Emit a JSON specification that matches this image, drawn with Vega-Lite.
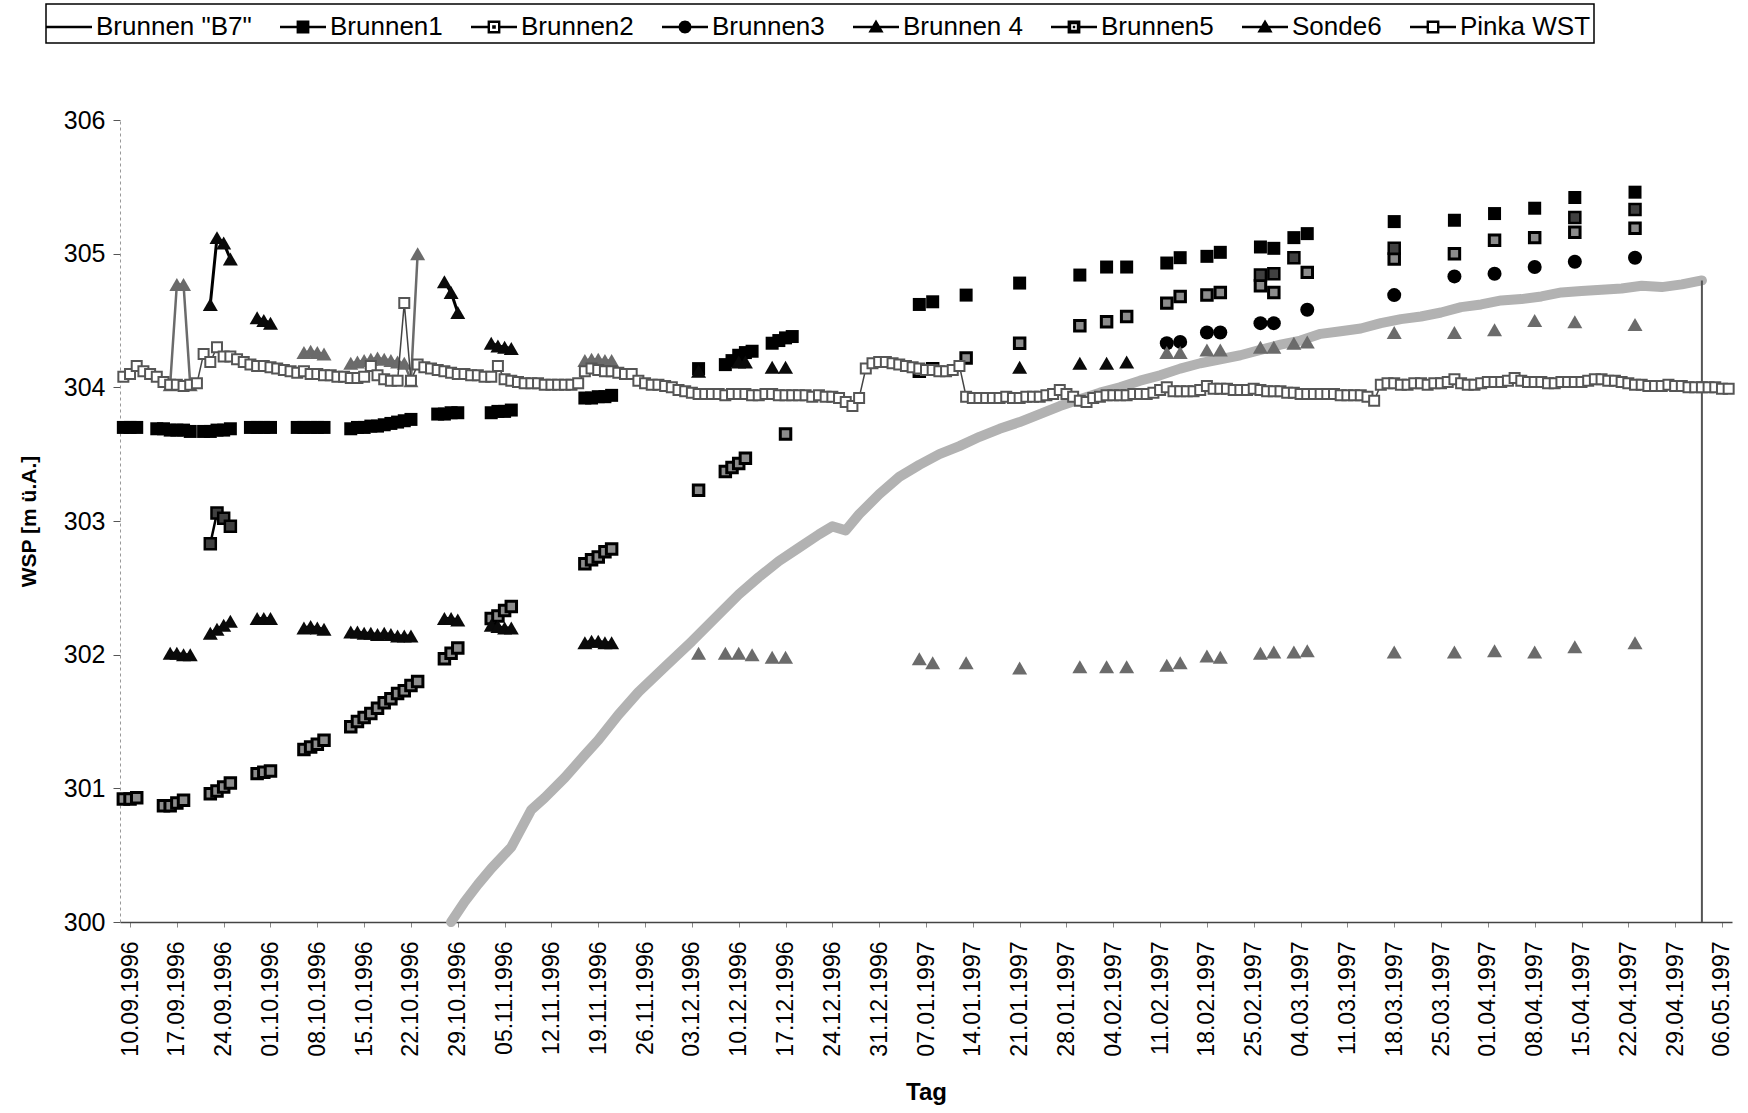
{
"$schema":"https://vega.github.io/schema/vega-lite/v6.json",
"width":1612,"height":802,
"autosize":{"type":"none"},
"padding":{"left":120,"top":120,"right":16,"bottom":191},
"background":"white",
"config":{"view":{"stroke":null},"font":"Liberation Sans","axis":{"labelFont":"Liberation Sans","titleFont":"Liberation Sans"}},
"data":{"values":[
{"s":"Brunnen \"B7\"","d":"1996-10-28","v":300.00,"g":"b7"},
{"s":"Brunnen \"B7\"","d":"1996-10-30","v":300.15,"g":"b7"},
{"s":"Brunnen \"B7\"","d":"1996-11-01","v":300.28,"g":"b7"},
{"s":"Brunnen \"B7\"","d":"1996-11-03","v":300.40,"g":"b7"},
{"s":"Brunnen \"B7\"","d":"1996-11-06","v":300.56,"g":"b7"},
{"s":"Brunnen \"B7\"","d":"1996-11-09","v":300.84,"g":"b7"},
{"s":"Brunnen \"B7\"","d":"1996-11-11","v":300.93,"g":"b7"},
{"s":"Brunnen \"B7\"","d":"1996-11-14","v":301.08,"g":"b7"},
{"s":"Brunnen \"B7\"","d":"1996-11-17","v":301.25,"g":"b7"},
{"s":"Brunnen \"B7\"","d":"1996-11-19","v":301.36,"g":"b7"},
{"s":"Brunnen \"B7\"","d":"1996-11-22","v":301.55,"g":"b7"},
{"s":"Brunnen \"B7\"","d":"1996-11-25","v":301.72,"g":"b7"},
{"s":"Brunnen \"B7\"","d":"1996-11-29","v":301.91,"g":"b7"},
{"s":"Brunnen \"B7\"","d":"1996-12-03","v":302.10,"g":"b7"},
{"s":"Brunnen \"B7\"","d":"1996-12-07","v":302.30,"g":"b7"},
{"s":"Brunnen \"B7\"","d":"1996-12-10","v":302.45,"g":"b7"},
{"s":"Brunnen \"B7\"","d":"1996-12-13","v":302.58,"g":"b7"},
{"s":"Brunnen \"B7\"","d":"1996-12-16","v":302.70,"g":"b7"},
{"s":"Brunnen \"B7\"","d":"1996-12-19","v":302.80,"g":"b7"},
{"s":"Brunnen \"B7\"","d":"1996-12-22","v":302.90,"g":"b7"},
{"s":"Brunnen \"B7\"","d":"1996-12-24","v":302.96,"g":"b7"},
{"s":"Brunnen \"B7\"","d":"1996-12-26","v":302.93,"g":"b7"},
{"s":"Brunnen \"B7\"","d":"1996-12-28","v":303.05,"g":"b7"},
{"s":"Brunnen \"B7\"","d":"1996-12-31","v":303.20,"g":"b7"},
{"s":"Brunnen \"B7\"","d":"1997-01-03","v":303.33,"g":"b7"},
{"s":"Brunnen \"B7\"","d":"1997-01-06","v":303.42,"g":"b7"},
{"s":"Brunnen \"B7\"","d":"1997-01-09","v":303.50,"g":"b7"},
{"s":"Brunnen \"B7\"","d":"1997-01-12","v":303.56,"g":"b7"},
{"s":"Brunnen \"B7\"","d":"1997-01-15","v":303.63,"g":"b7"},
{"s":"Brunnen \"B7\"","d":"1997-01-18","v":303.69,"g":"b7"},
{"s":"Brunnen \"B7\"","d":"1997-01-21","v":303.74,"g":"b7"},
{"s":"Brunnen \"B7\"","d":"1997-01-24","v":303.80,"g":"b7"},
{"s":"Brunnen \"B7\"","d":"1997-01-27","v":303.86,"g":"b7"},
{"s":"Brunnen \"B7\"","d":"1997-01-30","v":303.91,"g":"b7"},
{"s":"Brunnen \"B7\"","d":"1997-02-02","v":303.96,"g":"b7"},
{"s":"Brunnen \"B7\"","d":"1997-02-05","v":304.00,"g":"b7"},
{"s":"Brunnen \"B7\"","d":"1997-02-08","v":304.05,"g":"b7"},
{"s":"Brunnen \"B7\"","d":"1997-02-11","v":304.09,"g":"b7"},
{"s":"Brunnen \"B7\"","d":"1997-02-14","v":304.14,"g":"b7"},
{"s":"Brunnen \"B7\"","d":"1997-02-17","v":304.18,"g":"b7"},
{"s":"Brunnen \"B7\"","d":"1997-02-20","v":304.21,"g":"b7"},
{"s":"Brunnen \"B7\"","d":"1997-02-23","v":304.24,"g":"b7"},
{"s":"Brunnen \"B7\"","d":"1997-02-26","v":304.28,"g":"b7"},
{"s":"Brunnen \"B7\"","d":"1997-03-01","v":304.32,"g":"b7"},
{"s":"Brunnen \"B7\"","d":"1997-03-04","v":304.35,"g":"b7"},
{"s":"Brunnen \"B7\"","d":"1997-03-07","v":304.40,"g":"b7"},
{"s":"Brunnen \"B7\"","d":"1997-03-10","v":304.42,"g":"b7"},
{"s":"Brunnen \"B7\"","d":"1997-03-13","v":304.44,"g":"b7"},
{"s":"Brunnen \"B7\"","d":"1997-03-16","v":304.48,"g":"b7"},
{"s":"Brunnen \"B7\"","d":"1997-03-19","v":304.51,"g":"b7"},
{"s":"Brunnen \"B7\"","d":"1997-03-22","v":304.53,"g":"b7"},
{"s":"Brunnen \"B7\"","d":"1997-03-25","v":304.56,"g":"b7"},
{"s":"Brunnen \"B7\"","d":"1997-03-28","v":304.60,"g":"b7"},
{"s":"Brunnen \"B7\"","d":"1997-03-31","v":304.62,"g":"b7"},
{"s":"Brunnen \"B7\"","d":"1997-04-03","v":304.65,"g":"b7"},
{"s":"Brunnen \"B7\"","d":"1997-04-06","v":304.66,"g":"b7"},
{"s":"Brunnen \"B7\"","d":"1997-04-09","v":304.68,"g":"b7"},
{"s":"Brunnen \"B7\"","d":"1997-04-12","v":304.71,"g":"b7"},
{"s":"Brunnen \"B7\"","d":"1997-04-15","v":304.72,"g":"b7"},
{"s":"Brunnen \"B7\"","d":"1997-04-18","v":304.73,"g":"b7"},
{"s":"Brunnen \"B7\"","d":"1997-04-21","v":304.74,"g":"b7"},
{"s":"Brunnen \"B7\"","d":"1997-04-24","v":304.76,"g":"b7"},
{"s":"Brunnen \"B7\"","d":"1997-04-27","v":304.75,"g":"b7"},
{"s":"Brunnen \"B7\"","d":"1997-04-30","v":304.77,"g":"b7"},
{"s":"Brunnen \"B7\"","d":"1997-05-03","v":304.80,"g":"b7"},
{"s":"Brunnen \"B7\"","d":"1997-05-03","v":304.80,"g":"b7d"},
{"s":"Brunnen \"B7\"","d":"1997-05-03","v":300.00,"g":"b7d"},
{"s":"Brunnen1","d":"1996-09-09","v":303.70,"g":"1a"},
{"s":"Brunnen1","d":"1996-09-10","v":303.70,"g":"1a"},
{"s":"Brunnen1","d":"1996-09-11","v":303.70,"g":"1a"},
{"s":"Brunnen1","d":"1996-09-14","v":303.69,"g":"1b"},
{"s":"Brunnen1","d":"1996-09-15","v":303.69,"g":"1b"},
{"s":"Brunnen1","d":"1996-09-16","v":303.68,"g":"1b"},
{"s":"Brunnen1","d":"1996-09-17","v":303.68,"g":"1b"},
{"s":"Brunnen1","d":"1996-09-18","v":303.68,"g":"1b"},
{"s":"Brunnen1","d":"1996-09-19","v":303.67,"g":"1b"},
{"s":"Brunnen1","d":"1996-09-21","v":303.67,"g":"1c"},
{"s":"Brunnen1","d":"1996-09-22","v":303.67,"g":"1c"},
{"s":"Brunnen1","d":"1996-09-23","v":303.68,"g":"1c"},
{"s":"Brunnen1","d":"1996-09-24","v":303.68,"g":"1c"},
{"s":"Brunnen1","d":"1996-09-25","v":303.69,"g":"1c"},
{"s":"Brunnen1","d":"1996-09-28","v":303.70,"g":"1d"},
{"s":"Brunnen1","d":"1996-09-29","v":303.70,"g":"1d"},
{"s":"Brunnen1","d":"1996-09-30","v":303.70,"g":"1d"},
{"s":"Brunnen1","d":"1996-10-01","v":303.70,"g":"1d"},
{"s":"Brunnen1","d":"1996-10-05","v":303.70,"g":"1e"},
{"s":"Brunnen1","d":"1996-10-06","v":303.70,"g":"1e"},
{"s":"Brunnen1","d":"1996-10-07","v":303.70,"g":"1e"},
{"s":"Brunnen1","d":"1996-10-08","v":303.70,"g":"1e"},
{"s":"Brunnen1","d":"1996-10-09","v":303.70,"g":"1e"},
{"s":"Brunnen1","d":"1996-10-13","v":303.69,"g":"1f"},
{"s":"Brunnen1","d":"1996-10-14","v":303.70,"g":"1f"},
{"s":"Brunnen1","d":"1996-10-15","v":303.70,"g":"1f"},
{"s":"Brunnen1","d":"1996-10-16","v":303.71,"g":"1f"},
{"s":"Brunnen1","d":"1996-10-17","v":303.71,"g":"1f"},
{"s":"Brunnen1","d":"1996-10-18","v":303.72,"g":"1f"},
{"s":"Brunnen1","d":"1996-10-19","v":303.73,"g":"1f"},
{"s":"Brunnen1","d":"1996-10-20","v":303.74,"g":"1f"},
{"s":"Brunnen1","d":"1996-10-21","v":303.75,"g":"1f"},
{"s":"Brunnen1","d":"1996-10-22","v":303.76,"g":"1f"},
{"s":"Brunnen1","d":"1996-10-26","v":303.80,"g":"1g"},
{"s":"Brunnen1","d":"1996-10-27","v":303.80,"g":"1g"},
{"s":"Brunnen1","d":"1996-10-28","v":303.81,"g":"1g"},
{"s":"Brunnen1","d":"1996-10-29","v":303.81,"g":"1g"},
{"s":"Brunnen1","d":"1996-11-03","v":303.81,"g":"1h"},
{"s":"Brunnen1","d":"1996-11-04","v":303.82,"g":"1h"},
{"s":"Brunnen1","d":"1996-11-05","v":303.82,"g":"1h"},
{"s":"Brunnen1","d":"1996-11-06","v":303.83,"g":"1h"},
{"s":"Brunnen1","d":"1996-11-17","v":303.92,"g":"1i"},
{"s":"Brunnen1","d":"1996-11-18","v":303.92,"g":"1i"},
{"s":"Brunnen1","d":"1996-11-19","v":303.93,"g":"1i"},
{"s":"Brunnen1","d":"1996-11-20","v":303.93,"g":"1i"},
{"s":"Brunnen1","d":"1996-11-21","v":303.94,"g":"1i"},
{"s":"Brunnen1","d":"1996-12-04","v":304.14},
{"s":"Brunnen1","d":"1996-12-08","v":304.17,"g":"1k"},
{"s":"Brunnen1","d":"1996-12-09","v":304.20,"g":"1k"},
{"s":"Brunnen1","d":"1996-12-10","v":304.24,"g":"1k"},
{"s":"Brunnen1","d":"1996-12-11","v":304.26,"g":"1k"},
{"s":"Brunnen1","d":"1996-12-12","v":304.27,"g":"1k"},
{"s":"Brunnen1","d":"1996-12-15","v":304.33,"g":"1l"},
{"s":"Brunnen1","d":"1996-12-16","v":304.35,"g":"1l"},
{"s":"Brunnen1","d":"1996-12-17","v":304.37,"g":"1l"},
{"s":"Brunnen1","d":"1996-12-18","v":304.38,"g":"1l"},
{"s":"Brunnen1","d":"1997-01-06","v":304.62},
{"s":"Brunnen1","d":"1997-01-08","v":304.64},
{"s":"Brunnen1","d":"1997-01-13","v":304.69},
{"s":"Brunnen1","d":"1997-01-21","v":304.78},
{"s":"Brunnen1","d":"1997-01-30","v":304.84},
{"s":"Brunnen1","d":"1997-02-03","v":304.90},
{"s":"Brunnen1","d":"1997-02-06","v":304.90},
{"s":"Brunnen1","d":"1997-02-12","v":304.93},
{"s":"Brunnen1","d":"1997-02-14","v":304.97},
{"s":"Brunnen1","d":"1997-02-18","v":304.98},
{"s":"Brunnen1","d":"1997-02-20","v":305.01},
{"s":"Brunnen1","d":"1997-02-26","v":305.05},
{"s":"Brunnen1","d":"1997-02-28","v":305.04},
{"s":"Brunnen1","d":"1997-03-03","v":305.12},
{"s":"Brunnen1","d":"1997-03-05","v":305.15},
{"s":"Brunnen1","d":"1997-03-18","v":305.24},
{"s":"Brunnen1","d":"1997-03-27","v":305.25},
{"s":"Brunnen1","d":"1997-04-02","v":305.30},
{"s":"Brunnen1","d":"1997-04-08","v":305.34},
{"s":"Brunnen1","d":"1997-04-14","v":305.42},
{"s":"Brunnen1","d":"1997-04-23","v":305.46},
{"s":"Brunnen2","d":"1996-09-09","v":300.92,"g":"2a"},
{"s":"Brunnen2","d":"1996-09-10","v":300.92,"g":"2a"},
{"s":"Brunnen2","d":"1996-09-11","v":300.93,"g":"2a"},
{"s":"Brunnen2","d":"1996-09-15","v":300.87,"g":"2b"},
{"s":"Brunnen2","d":"1996-09-16","v":300.87,"g":"2b"},
{"s":"Brunnen2","d":"1996-09-17","v":300.89,"g":"2b"},
{"s":"Brunnen2","d":"1996-09-18","v":300.91,"g":"2b"},
{"s":"Brunnen2","d":"1996-09-22","v":300.96,"g":"2c"},
{"s":"Brunnen2","d":"1996-09-23","v":300.98,"g":"2c"},
{"s":"Brunnen2","d":"1996-09-24","v":301.01,"g":"2c"},
{"s":"Brunnen2","d":"1996-09-25","v":301.04,"g":"2c"},
{"s":"Brunnen2","d":"1996-09-29","v":301.11,"g":"2d"},
{"s":"Brunnen2","d":"1996-09-30","v":301.12,"g":"2d"},
{"s":"Brunnen2","d":"1996-10-01","v":301.13,"g":"2d"},
{"s":"Brunnen2","d":"1996-10-06","v":301.29,"g":"2e"},
{"s":"Brunnen2","d":"1996-10-07","v":301.31,"g":"2e"},
{"s":"Brunnen2","d":"1996-10-08","v":301.33,"g":"2e"},
{"s":"Brunnen2","d":"1996-10-09","v":301.36,"g":"2e"},
{"s":"Brunnen2","d":"1996-10-13","v":301.46,"g":"2f"},
{"s":"Brunnen2","d":"1996-10-14","v":301.50,"g":"2f"},
{"s":"Brunnen2","d":"1996-10-15","v":301.53,"g":"2f"},
{"s":"Brunnen2","d":"1996-10-16","v":301.56,"g":"2f"},
{"s":"Brunnen2","d":"1996-10-17","v":301.60,"g":"2f"},
{"s":"Brunnen2","d":"1996-10-18","v":301.64,"g":"2f"},
{"s":"Brunnen2","d":"1996-10-19","v":301.67,"g":"2f"},
{"s":"Brunnen2","d":"1996-10-20","v":301.71,"g":"2f"},
{"s":"Brunnen2","d":"1996-10-21","v":301.73,"g":"2f"},
{"s":"Brunnen2","d":"1996-10-22","v":301.77,"g":"2f"},
{"s":"Brunnen2","d":"1996-10-23","v":301.80,"g":"2f"},
{"s":"Brunnen2","d":"1996-10-27","v":301.97,"g":"2g"},
{"s":"Brunnen2","d":"1996-10-28","v":302.01,"g":"2g"},
{"s":"Brunnen2","d":"1996-10-29","v":302.05,"g":"2g"},
{"s":"Brunnen2","d":"1996-11-03","v":302.27,"g":"2h"},
{"s":"Brunnen2","d":"1996-11-04","v":302.29,"g":"2h"},
{"s":"Brunnen2","d":"1996-11-05","v":302.33,"g":"2h"},
{"s":"Brunnen2","d":"1996-11-06","v":302.36,"g":"2h"},
{"s":"Brunnen2","d":"1996-11-17","v":302.68,"g":"2i"},
{"s":"Brunnen2","d":"1996-11-18","v":302.71,"g":"2i"},
{"s":"Brunnen2","d":"1996-11-19","v":302.73,"g":"2i"},
{"s":"Brunnen2","d":"1996-11-20","v":302.77,"g":"2i"},
{"s":"Brunnen2","d":"1996-11-21","v":302.79,"g":"2i"},
{"s":"Brunnen2","d":"1996-12-04","v":303.23},
{"s":"Brunnen2","d":"1996-12-08","v":303.37,"g":"2k"},
{"s":"Brunnen2","d":"1996-12-09","v":303.40,"g":"2k"},
{"s":"Brunnen2","d":"1996-12-10","v":303.43,"g":"2k"},
{"s":"Brunnen2","d":"1996-12-11","v":303.47,"g":"2k"},
{"s":"Brunnen2","d":"1996-12-17","v":303.65},
{"s":"Brunnen2","d":"1997-01-06","v":304.12},
{"s":"Brunnen2","d":"1997-01-08","v":304.14},
{"s":"Brunnen2","d":"1997-01-13","v":304.22},
{"s":"Brunnen2","d":"1997-01-21","v":304.33},
{"s":"Brunnen2","d":"1997-01-30","v":304.46},
{"s":"Brunnen2","d":"1997-02-03","v":304.49},
{"s":"Brunnen2","d":"1997-02-06","v":304.53},
{"s":"Brunnen2","d":"1997-02-12","v":304.63},
{"s":"Brunnen2","d":"1997-02-14","v":304.68},
{"s":"Brunnen2","d":"1997-02-18","v":304.69},
{"s":"Brunnen2","d":"1997-02-20","v":304.71},
{"s":"Brunnen2","d":"1997-02-26","v":304.76},
{"s":"Brunnen2","d":"1997-02-28","v":304.71},
{"s":"Brunnen2","d":"1997-03-05","v":304.86},
{"s":"Brunnen2","d":"1997-03-18","v":304.96},
{"s":"Brunnen2","d":"1997-03-27","v":305.00},
{"s":"Brunnen2","d":"1997-04-02","v":305.10},
{"s":"Brunnen2","d":"1997-04-08","v":305.12},
{"s":"Brunnen2","d":"1997-04-14","v":305.16},
{"s":"Brunnen2","d":"1997-04-23","v":305.19},
{"s":"Brunnen3","d":"1997-02-12","v":304.33},
{"s":"Brunnen3","d":"1997-02-14","v":304.34},
{"s":"Brunnen3","d":"1997-02-18","v":304.41},
{"s":"Brunnen3","d":"1997-02-20","v":304.41},
{"s":"Brunnen3","d":"1997-02-26","v":304.48},
{"s":"Brunnen3","d":"1997-02-28","v":304.48},
{"s":"Brunnen3","d":"1997-03-05","v":304.58},
{"s":"Brunnen3","d":"1997-03-18","v":304.69},
{"s":"Brunnen3","d":"1997-03-27","v":304.83},
{"s":"Brunnen3","d":"1997-04-02","v":304.85},
{"s":"Brunnen3","d":"1997-04-08","v":304.90},
{"s":"Brunnen3","d":"1997-04-14","v":304.94},
{"s":"Brunnen3","d":"1997-04-23","v":304.97},
{"s":"Brunnen 4","d":"1996-09-16","v":302.01,"g":"4a"},
{"s":"Brunnen 4","d":"1996-09-17","v":302.01,"g":"4a"},
{"s":"Brunnen 4","d":"1996-09-18","v":302.00,"g":"4a"},
{"s":"Brunnen 4","d":"1996-09-19","v":302.00,"g":"4a"},
{"s":"Brunnen 4","d":"1996-09-22","v":302.16,"g":"4b"},
{"s":"Brunnen 4","d":"1996-09-23","v":302.19,"g":"4b"},
{"s":"Brunnen 4","d":"1996-09-24","v":302.22,"g":"4b"},
{"s":"Brunnen 4","d":"1996-09-25","v":302.25,"g":"4b"},
{"s":"Brunnen 4","d":"1996-09-29","v":302.27,"g":"4c"},
{"s":"Brunnen 4","d":"1996-09-30","v":302.27,"g":"4c"},
{"s":"Brunnen 4","d":"1996-10-01","v":302.27,"g":"4c"},
{"s":"Brunnen 4","d":"1996-10-06","v":302.20,"g":"4d"},
{"s":"Brunnen 4","d":"1996-10-07","v":302.21,"g":"4d"},
{"s":"Brunnen 4","d":"1996-10-08","v":302.20,"g":"4d"},
{"s":"Brunnen 4","d":"1996-10-09","v":302.19,"g":"4d"},
{"s":"Brunnen 4","d":"1996-10-13","v":302.17,"g":"4e"},
{"s":"Brunnen 4","d":"1996-10-14","v":302.17,"g":"4e"},
{"s":"Brunnen 4","d":"1996-10-15","v":302.16,"g":"4e"},
{"s":"Brunnen 4","d":"1996-10-16","v":302.16,"g":"4e"},
{"s":"Brunnen 4","d":"1996-10-17","v":302.15,"g":"4e"},
{"s":"Brunnen 4","d":"1996-10-18","v":302.16,"g":"4e"},
{"s":"Brunnen 4","d":"1996-10-19","v":302.15,"g":"4e"},
{"s":"Brunnen 4","d":"1996-10-20","v":302.14,"g":"4e"},
{"s":"Brunnen 4","d":"1996-10-21","v":302.14,"g":"4e"},
{"s":"Brunnen 4","d":"1996-10-22","v":302.14,"g":"4e"},
{"s":"Brunnen 4","d":"1996-10-27","v":302.27,"g":"4f"},
{"s":"Brunnen 4","d":"1996-10-28","v":302.27,"g":"4f"},
{"s":"Brunnen 4","d":"1996-10-29","v":302.26,"g":"4f"},
{"s":"Brunnen 4","d":"1996-11-03","v":302.22,"g":"4g"},
{"s":"Brunnen 4","d":"1996-11-04","v":302.21,"g":"4g"},
{"s":"Brunnen 4","d":"1996-11-05","v":302.20,"g":"4g"},
{"s":"Brunnen 4","d":"1996-11-06","v":302.20,"g":"4g"},
{"s":"Brunnen 4","d":"1996-11-17","v":302.09,"g":"4h"},
{"s":"Brunnen 4","d":"1996-11-18","v":302.10,"g":"4h"},
{"s":"Brunnen 4","d":"1996-11-19","v":302.10,"g":"4h"},
{"s":"Brunnen 4","d":"1996-11-20","v":302.09,"g":"4h"},
{"s":"Brunnen 4","d":"1996-11-21","v":302.09,"g":"4h"},
{"s":"Brunnen 4","d":"1996-09-22","v":304.62,"g":"4u1"},
{"s":"Brunnen 4","d":"1996-09-23","v":305.12,"g":"4u1"},
{"s":"Brunnen 4","d":"1996-09-24","v":305.08,"g":"4u1"},
{"s":"Brunnen 4","d":"1996-09-25","v":304.96,"g":"4u1"},
{"s":"Brunnen 4","d":"1996-09-29","v":304.52,"g":"4u2"},
{"s":"Brunnen 4","d":"1996-09-30","v":304.50,"g":"4u2"},
{"s":"Brunnen 4","d":"1996-10-01","v":304.48,"g":"4u2"},
{"s":"Brunnen 4","d":"1996-10-27","v":304.79,"g":"4u3"},
{"s":"Brunnen 4","d":"1996-10-28","v":304.71,"g":"4u3"},
{"s":"Brunnen 4","d":"1996-10-29","v":304.56,"g":"4u3"},
{"s":"Brunnen 4","d":"1996-11-03","v":304.33,"g":"4u4"},
{"s":"Brunnen 4","d":"1996-11-04","v":304.31,"g":"4u4"},
{"s":"Brunnen 4","d":"1996-11-05","v":304.30,"g":"4u4"},
{"s":"Brunnen 4","d":"1996-11-06","v":304.29,"g":"4u4"},
{"s":"Brunnen 4","d":"1996-12-04","v":304.12},
{"s":"Brunnen 4","d":"1996-12-10","v":304.19,"g":"4u5"},
{"s":"Brunnen 4","d":"1996-12-11","v":304.19,"g":"4u5"},
{"s":"Brunnen 4","d":"1996-12-15","v":304.15},
{"s":"Brunnen 4","d":"1996-12-17","v":304.15},
{"s":"Brunnen 4","d":"1997-01-21","v":304.15},
{"s":"Brunnen 4","d":"1997-01-30","v":304.18},
{"s":"Brunnen 4","d":"1997-02-03","v":304.18},
{"s":"Brunnen 4","d":"1997-02-06","v":304.19},
{"s":"Brunnen5","d":"1996-09-22","v":302.83,"g":"5a"},
{"s":"Brunnen5","d":"1996-09-23","v":303.06,"g":"5a"},
{"s":"Brunnen5","d":"1996-09-24","v":303.02,"g":"5a"},
{"s":"Brunnen5","d":"1996-09-25","v":302.96,"g":"5a"},
{"s":"Brunnen5","d":"1997-02-26","v":304.84},
{"s":"Brunnen5","d":"1997-02-28","v":304.85},
{"s":"Brunnen5","d":"1997-03-03","v":304.97},
{"s":"Brunnen5","d":"1997-03-18","v":305.04},
{"s":"Brunnen5","d":"1997-04-14","v":305.27},
{"s":"Brunnen5","d":"1997-04-23","v":305.33},
{"s":"Sonde6","d":"1996-09-16","v":304.02,"g":"s1"},
{"s":"Sonde6","d":"1996-09-17","v":304.77,"g":"s1"},
{"s":"Sonde6","d":"1996-09-18","v":304.77,"g":"s1"},
{"s":"Sonde6","d":"1996-09-19","v":304.02,"g":"s1"},
{"s":"Sonde6","d":"1996-10-06","v":304.26,"g":"s2"},
{"s":"Sonde6","d":"1996-10-07","v":304.27,"g":"s2"},
{"s":"Sonde6","d":"1996-10-08","v":304.26,"g":"s2"},
{"s":"Sonde6","d":"1996-10-09","v":304.25,"g":"s2"},
{"s":"Sonde6","d":"1996-10-13","v":304.18,"g":"s3"},
{"s":"Sonde6","d":"1996-10-14","v":304.19,"g":"s3"},
{"s":"Sonde6","d":"1996-10-15","v":304.20,"g":"s3"},
{"s":"Sonde6","d":"1996-10-16","v":304.21,"g":"s3"},
{"s":"Sonde6","d":"1996-10-17","v":304.22,"g":"s3"},
{"s":"Sonde6","d":"1996-10-18","v":304.21,"g":"s3"},
{"s":"Sonde6","d":"1996-10-19","v":304.20,"g":"s3"},
{"s":"Sonde6","d":"1996-10-20","v":304.19,"g":"s3"},
{"s":"Sonde6","d":"1996-10-21","v":304.18,"g":"s3"},
{"s":"Sonde6","d":"1996-10-22","v":304.05,"g":"s3"},
{"s":"Sonde6","d":"1996-10-23","v":305.00,"g":"s3"},
{"s":"Sonde6","d":"1996-11-17","v":304.20,"g":"s4"},
{"s":"Sonde6","d":"1996-11-18","v":304.21,"g":"s4"},
{"s":"Sonde6","d":"1996-11-19","v":304.21,"g":"s4"},
{"s":"Sonde6","d":"1996-11-20","v":304.20,"g":"s4"},
{"s":"Sonde6","d":"1996-11-21","v":304.20,"g":"s4"},
{"s":"Sonde6","d":"1996-12-04","v":302.01},
{"s":"Sonde6","d":"1996-12-08","v":302.01},
{"s":"Sonde6","d":"1996-12-10","v":302.01},
{"s":"Sonde6","d":"1996-12-12","v":302.00},
{"s":"Sonde6","d":"1996-12-15","v":301.98},
{"s":"Sonde6","d":"1996-12-17","v":301.98},
{"s":"Sonde6","d":"1997-01-06","v":301.97},
{"s":"Sonde6","d":"1997-01-08","v":301.94},
{"s":"Sonde6","d":"1997-01-13","v":301.94},
{"s":"Sonde6","d":"1997-01-21","v":301.90},
{"s":"Sonde6","d":"1997-01-30","v":301.91},
{"s":"Sonde6","d":"1997-02-03","v":301.91},
{"s":"Sonde6","d":"1997-02-06","v":301.91},
{"s":"Sonde6","d":"1997-02-12","v":301.92},
{"s":"Sonde6","d":"1997-02-14","v":301.94},
{"s":"Sonde6","d":"1997-02-18","v":301.99},
{"s":"Sonde6","d":"1997-02-20","v":301.98},
{"s":"Sonde6","d":"1997-02-26","v":302.01},
{"s":"Sonde6","d":"1997-02-28","v":302.02},
{"s":"Sonde6","d":"1997-03-03","v":302.02},
{"s":"Sonde6","d":"1997-03-05","v":302.03},
{"s":"Sonde6","d":"1997-03-18","v":302.02},
{"s":"Sonde6","d":"1997-03-27","v":302.02},
{"s":"Sonde6","d":"1997-04-02","v":302.03},
{"s":"Sonde6","d":"1997-04-08","v":302.02},
{"s":"Sonde6","d":"1997-04-14","v":302.06},
{"s":"Sonde6","d":"1997-04-23","v":302.09},
{"s":"Sonde6","d":"1997-02-12","v":304.26},
{"s":"Sonde6","d":"1997-02-14","v":304.26},
{"s":"Sonde6","d":"1997-02-18","v":304.28},
{"s":"Sonde6","d":"1997-02-20","v":304.28},
{"s":"Sonde6","d":"1997-02-26","v":304.30},
{"s":"Sonde6","d":"1997-02-28","v":304.30},
{"s":"Sonde6","d":"1997-03-03","v":304.33},
{"s":"Sonde6","d":"1997-03-05","v":304.34},
{"s":"Sonde6","d":"1997-03-18","v":304.41},
{"s":"Sonde6","d":"1997-03-27","v":304.41},
{"s":"Sonde6","d":"1997-04-02","v":304.43},
{"s":"Sonde6","d":"1997-04-08","v":304.50},
{"s":"Sonde6","d":"1997-04-14","v":304.49},
{"s":"Sonde6","d":"1997-04-23","v":304.47},
{"s":"Pinka WST","d":"1996-09-09","v":304.08,"g":"p"},
{"s":"Pinka WST","d":"1996-09-10","v":304.10,"g":"p"},
{"s":"Pinka WST","d":"1996-09-11","v":304.16,"g":"p"},
{"s":"Pinka WST","d":"1996-09-12","v":304.12,"g":"p"},
{"s":"Pinka WST","d":"1996-09-13","v":304.10,"g":"p"},
{"s":"Pinka WST","d":"1996-09-14","v":304.08,"g":"p"},
{"s":"Pinka WST","d":"1996-09-15","v":304.04,"g":"p"},
{"s":"Pinka WST","d":"1996-09-16","v":304.02,"g":"p"},
{"s":"Pinka WST","d":"1996-09-17","v":304.02,"g":"p"},
{"s":"Pinka WST","d":"1996-09-18","v":304.01,"g":"p"},
{"s":"Pinka WST","d":"1996-09-19","v":304.02,"g":"p"},
{"s":"Pinka WST","d":"1996-09-20","v":304.03,"g":"p"},
{"s":"Pinka WST","d":"1996-09-21","v":304.25,"g":"p"},
{"s":"Pinka WST","d":"1996-09-22","v":304.19,"g":"p"},
{"s":"Pinka WST","d":"1996-09-23","v":304.30,"g":"p"},
{"s":"Pinka WST","d":"1996-09-24","v":304.23,"g":"p"},
{"s":"Pinka WST","d":"1996-09-25","v":304.23,"g":"p"},
{"s":"Pinka WST","d":"1996-09-26","v":304.21,"g":"p"},
{"s":"Pinka WST","d":"1996-09-27","v":304.19,"g":"p"},
{"s":"Pinka WST","d":"1996-09-28","v":304.17,"g":"p"},
{"s":"Pinka WST","d":"1996-09-29","v":304.16,"g":"p"},
{"s":"Pinka WST","d":"1996-09-30","v":304.16,"g":"p"},
{"s":"Pinka WST","d":"1996-10-01","v":304.15,"g":"p"},
{"s":"Pinka WST","d":"1996-10-02","v":304.14,"g":"p"},
{"s":"Pinka WST","d":"1996-10-03","v":304.13,"g":"p"},
{"s":"Pinka WST","d":"1996-10-04","v":304.12,"g":"p"},
{"s":"Pinka WST","d":"1996-10-05","v":304.11,"g":"p"},
{"s":"Pinka WST","d":"1996-10-06","v":304.12,"g":"p"},
{"s":"Pinka WST","d":"1996-10-07","v":304.10,"g":"p"},
{"s":"Pinka WST","d":"1996-10-08","v":304.10,"g":"p"},
{"s":"Pinka WST","d":"1996-10-09","v":304.09,"g":"p"},
{"s":"Pinka WST","d":"1996-10-10","v":304.09,"g":"p"},
{"s":"Pinka WST","d":"1996-10-11","v":304.08,"g":"p"},
{"s":"Pinka WST","d":"1996-10-12","v":304.08,"g":"p"},
{"s":"Pinka WST","d":"1996-10-13","v":304.07,"g":"p"},
{"s":"Pinka WST","d":"1996-10-14","v":304.07,"g":"p"},
{"s":"Pinka WST","d":"1996-10-15","v":304.08,"g":"p"},
{"s":"Pinka WST","d":"1996-10-16","v":304.16,"g":"p"},
{"s":"Pinka WST","d":"1996-10-17","v":304.09,"g":"p"},
{"s":"Pinka WST","d":"1996-10-18","v":304.06,"g":"p"},
{"s":"Pinka WST","d":"1996-10-19","v":304.05,"g":"p"},
{"s":"Pinka WST","d":"1996-10-20","v":304.05,"g":"p"},
{"s":"Pinka WST","d":"1996-10-21","v":304.63,"g":"p"},
{"s":"Pinka WST","d":"1996-10-22","v":304.05,"g":"p"},
{"s":"Pinka WST","d":"1996-10-23","v":304.17,"g":"p"},
{"s":"Pinka WST","d":"1996-10-24","v":304.15,"g":"p"},
{"s":"Pinka WST","d":"1996-10-25","v":304.14,"g":"p"},
{"s":"Pinka WST","d":"1996-10-26","v":304.13,"g":"p"},
{"s":"Pinka WST","d":"1996-10-27","v":304.12,"g":"p"},
{"s":"Pinka WST","d":"1996-10-28","v":304.11,"g":"p"},
{"s":"Pinka WST","d":"1996-10-29","v":304.10,"g":"p"},
{"s":"Pinka WST","d":"1996-10-30","v":304.10,"g":"p"},
{"s":"Pinka WST","d":"1996-10-31","v":304.09,"g":"p"},
{"s":"Pinka WST","d":"1996-11-01","v":304.09,"g":"p"},
{"s":"Pinka WST","d":"1996-11-02","v":304.08,"g":"p"},
{"s":"Pinka WST","d":"1996-11-03","v":304.08,"g":"p"},
{"s":"Pinka WST","d":"1996-11-04","v":304.16,"g":"p"},
{"s":"Pinka WST","d":"1996-11-05","v":304.06,"g":"p"},
{"s":"Pinka WST","d":"1996-11-06","v":304.05,"g":"p"},
{"s":"Pinka WST","d":"1996-11-07","v":304.04,"g":"p"},
{"s":"Pinka WST","d":"1996-11-08","v":304.03,"g":"p"},
{"s":"Pinka WST","d":"1996-11-09","v":304.03,"g":"p"},
{"s":"Pinka WST","d":"1996-11-10","v":304.03,"g":"p"},
{"s":"Pinka WST","d":"1996-11-11","v":304.02,"g":"p"},
{"s":"Pinka WST","d":"1996-11-12","v":304.02,"g":"p"},
{"s":"Pinka WST","d":"1996-11-13","v":304.02,"g":"p"},
{"s":"Pinka WST","d":"1996-11-14","v":304.02,"g":"p"},
{"s":"Pinka WST","d":"1996-11-15","v":304.02,"g":"p"},
{"s":"Pinka WST","d":"1996-11-16","v":304.03,"g":"p"},
{"s":"Pinka WST","d":"1996-11-17","v":304.12,"g":"p"},
{"s":"Pinka WST","d":"1996-11-18","v":304.14,"g":"p"},
{"s":"Pinka WST","d":"1996-11-19","v":304.13,"g":"p"},
{"s":"Pinka WST","d":"1996-11-20","v":304.12,"g":"p"},
{"s":"Pinka WST","d":"1996-11-21","v":304.12,"g":"p"},
{"s":"Pinka WST","d":"1996-11-22","v":304.11,"g":"p"},
{"s":"Pinka WST","d":"1996-11-23","v":304.10,"g":"p"},
{"s":"Pinka WST","d":"1996-11-24","v":304.10,"g":"p"},
{"s":"Pinka WST","d":"1996-11-25","v":304.05,"g":"p"},
{"s":"Pinka WST","d":"1996-11-26","v":304.03,"g":"p"},
{"s":"Pinka WST","d":"1996-11-27","v":304.02,"g":"p"},
{"s":"Pinka WST","d":"1996-11-28","v":304.02,"g":"p"},
{"s":"Pinka WST","d":"1996-11-29","v":304.01,"g":"p"},
{"s":"Pinka WST","d":"1996-11-30","v":304.00,"g":"p"},
{"s":"Pinka WST","d":"1996-12-01","v":303.98,"g":"p"},
{"s":"Pinka WST","d":"1996-12-02","v":303.97,"g":"p"},
{"s":"Pinka WST","d":"1996-12-03","v":303.96,"g":"p"},
{"s":"Pinka WST","d":"1996-12-04","v":303.95,"g":"p"},
{"s":"Pinka WST","d":"1996-12-05","v":303.95,"g":"p"},
{"s":"Pinka WST","d":"1996-12-06","v":303.95,"g":"p"},
{"s":"Pinka WST","d":"1996-12-07","v":303.95,"g":"p"},
{"s":"Pinka WST","d":"1996-12-08","v":303.94,"g":"p"},
{"s":"Pinka WST","d":"1996-12-09","v":303.95,"g":"p"},
{"s":"Pinka WST","d":"1996-12-10","v":303.95,"g":"p"},
{"s":"Pinka WST","d":"1996-12-11","v":303.95,"g":"p"},
{"s":"Pinka WST","d":"1996-12-12","v":303.94,"g":"p"},
{"s":"Pinka WST","d":"1996-12-13","v":303.94,"g":"p"},
{"s":"Pinka WST","d":"1996-12-14","v":303.95,"g":"p"},
{"s":"Pinka WST","d":"1996-12-15","v":303.95,"g":"p"},
{"s":"Pinka WST","d":"1996-12-16","v":303.94,"g":"p"},
{"s":"Pinka WST","d":"1996-12-17","v":303.94,"g":"p"},
{"s":"Pinka WST","d":"1996-12-18","v":303.94,"g":"p"},
{"s":"Pinka WST","d":"1996-12-19","v":303.94,"g":"p"},
{"s":"Pinka WST","d":"1996-12-20","v":303.94,"g":"p"},
{"s":"Pinka WST","d":"1996-12-21","v":303.93,"g":"p"},
{"s":"Pinka WST","d":"1996-12-22","v":303.94,"g":"p"},
{"s":"Pinka WST","d":"1996-12-23","v":303.93,"g":"p"},
{"s":"Pinka WST","d":"1996-12-24","v":303.93,"g":"p"},
{"s":"Pinka WST","d":"1996-12-25","v":303.92,"g":"p"},
{"s":"Pinka WST","d":"1996-12-26","v":303.89,"g":"p"},
{"s":"Pinka WST","d":"1996-12-27","v":303.86,"g":"p"},
{"s":"Pinka WST","d":"1996-12-28","v":303.92,"g":"p"},
{"s":"Pinka WST","d":"1996-12-29","v":304.14,"g":"p"},
{"s":"Pinka WST","d":"1996-12-30","v":304.18,"g":"p"},
{"s":"Pinka WST","d":"1996-12-31","v":304.19,"g":"p"},
{"s":"Pinka WST","d":"1997-01-01","v":304.19,"g":"p"},
{"s":"Pinka WST","d":"1997-01-02","v":304.18,"g":"p"},
{"s":"Pinka WST","d":"1997-01-03","v":304.17,"g":"p"},
{"s":"Pinka WST","d":"1997-01-04","v":304.16,"g":"p"},
{"s":"Pinka WST","d":"1997-01-05","v":304.15,"g":"p"},
{"s":"Pinka WST","d":"1997-01-06","v":304.14,"g":"p"},
{"s":"Pinka WST","d":"1997-01-07","v":304.13,"g":"p"},
{"s":"Pinka WST","d":"1997-01-08","v":304.13,"g":"p"},
{"s":"Pinka WST","d":"1997-01-09","v":304.12,"g":"p"},
{"s":"Pinka WST","d":"1997-01-10","v":304.12,"g":"p"},
{"s":"Pinka WST","d":"1997-01-11","v":304.13,"g":"p"},
{"s":"Pinka WST","d":"1997-01-12","v":304.16,"g":"p"},
{"s":"Pinka WST","d":"1997-01-13","v":303.93,"g":"p"},
{"s":"Pinka WST","d":"1997-01-14","v":303.92,"g":"p"},
{"s":"Pinka WST","d":"1997-01-15","v":303.92,"g":"p"},
{"s":"Pinka WST","d":"1997-01-16","v":303.92,"g":"p"},
{"s":"Pinka WST","d":"1997-01-17","v":303.92,"g":"p"},
{"s":"Pinka WST","d":"1997-01-18","v":303.92,"g":"p"},
{"s":"Pinka WST","d":"1997-01-19","v":303.93,"g":"p"},
{"s":"Pinka WST","d":"1997-01-20","v":303.92,"g":"p"},
{"s":"Pinka WST","d":"1997-01-21","v":303.92,"g":"p"},
{"s":"Pinka WST","d":"1997-01-22","v":303.93,"g":"p"},
{"s":"Pinka WST","d":"1997-01-23","v":303.93,"g":"p"},
{"s":"Pinka WST","d":"1997-01-24","v":303.93,"g":"p"},
{"s":"Pinka WST","d":"1997-01-25","v":303.94,"g":"p"},
{"s":"Pinka WST","d":"1997-01-26","v":303.95,"g":"p"},
{"s":"Pinka WST","d":"1997-01-27","v":303.98,"g":"p"},
{"s":"Pinka WST","d":"1997-01-28","v":303.95,"g":"p"},
{"s":"Pinka WST","d":"1997-01-29","v":303.93,"g":"p"},
{"s":"Pinka WST","d":"1997-01-30","v":303.90,"g":"p"},
{"s":"Pinka WST","d":"1997-01-31","v":303.89,"g":"p"},
{"s":"Pinka WST","d":"1997-02-01","v":303.92,"g":"p"},
{"s":"Pinka WST","d":"1997-02-02","v":303.93,"g":"p"},
{"s":"Pinka WST","d":"1997-02-03","v":303.94,"g":"p"},
{"s":"Pinka WST","d":"1997-02-04","v":303.94,"g":"p"},
{"s":"Pinka WST","d":"1997-02-05","v":303.94,"g":"p"},
{"s":"Pinka WST","d":"1997-02-06","v":303.94,"g":"p"},
{"s":"Pinka WST","d":"1997-02-07","v":303.95,"g":"p"},
{"s":"Pinka WST","d":"1997-02-08","v":303.95,"g":"p"},
{"s":"Pinka WST","d":"1997-02-09","v":303.95,"g":"p"},
{"s":"Pinka WST","d":"1997-02-10","v":303.96,"g":"p"},
{"s":"Pinka WST","d":"1997-02-11","v":303.98,"g":"p"},
{"s":"Pinka WST","d":"1997-02-12","v":304.00,"g":"p"},
{"s":"Pinka WST","d":"1997-02-13","v":303.97,"g":"p"},
{"s":"Pinka WST","d":"1997-02-14","v":303.97,"g":"p"},
{"s":"Pinka WST","d":"1997-02-15","v":303.97,"g":"p"},
{"s":"Pinka WST","d":"1997-02-16","v":303.97,"g":"p"},
{"s":"Pinka WST","d":"1997-02-17","v":303.98,"g":"p"},
{"s":"Pinka WST","d":"1997-02-18","v":304.01,"g":"p"},
{"s":"Pinka WST","d":"1997-02-19","v":303.99,"g":"p"},
{"s":"Pinka WST","d":"1997-02-20","v":303.99,"g":"p"},
{"s":"Pinka WST","d":"1997-02-21","v":303.99,"g":"p"},
{"s":"Pinka WST","d":"1997-02-22","v":303.98,"g":"p"},
{"s":"Pinka WST","d":"1997-02-23","v":303.98,"g":"p"},
{"s":"Pinka WST","d":"1997-02-24","v":303.98,"g":"p"},
{"s":"Pinka WST","d":"1997-02-25","v":303.99,"g":"p"},
{"s":"Pinka WST","d":"1997-02-26","v":303.98,"g":"p"},
{"s":"Pinka WST","d":"1997-02-27","v":303.97,"g":"p"},
{"s":"Pinka WST","d":"1997-02-28","v":303.97,"g":"p"},
{"s":"Pinka WST","d":"1997-03-01","v":303.97,"g":"p"},
{"s":"Pinka WST","d":"1997-03-02","v":303.96,"g":"p"},
{"s":"Pinka WST","d":"1997-03-03","v":303.96,"g":"p"},
{"s":"Pinka WST","d":"1997-03-04","v":303.95,"g":"p"},
{"s":"Pinka WST","d":"1997-03-05","v":303.95,"g":"p"},
{"s":"Pinka WST","d":"1997-03-06","v":303.95,"g":"p"},
{"s":"Pinka WST","d":"1997-03-07","v":303.95,"g":"p"},
{"s":"Pinka WST","d":"1997-03-08","v":303.95,"g":"p"},
{"s":"Pinka WST","d":"1997-03-09","v":303.95,"g":"p"},
{"s":"Pinka WST","d":"1997-03-10","v":303.94,"g":"p"},
{"s":"Pinka WST","d":"1997-03-11","v":303.94,"g":"p"},
{"s":"Pinka WST","d":"1997-03-12","v":303.94,"g":"p"},
{"s":"Pinka WST","d":"1997-03-13","v":303.94,"g":"p"},
{"s":"Pinka WST","d":"1997-03-14","v":303.93,"g":"p"},
{"s":"Pinka WST","d":"1997-03-15","v":303.90,"g":"p"},
{"s":"Pinka WST","d":"1997-03-16","v":304.02,"g":"p"},
{"s":"Pinka WST","d":"1997-03-17","v":304.03,"g":"p"},
{"s":"Pinka WST","d":"1997-03-18","v":304.03,"g":"p"},
{"s":"Pinka WST","d":"1997-03-19","v":304.02,"g":"p"},
{"s":"Pinka WST","d":"1997-03-20","v":304.02,"g":"p"},
{"s":"Pinka WST","d":"1997-03-21","v":304.03,"g":"p"},
{"s":"Pinka WST","d":"1997-03-22","v":304.03,"g":"p"},
{"s":"Pinka WST","d":"1997-03-23","v":304.02,"g":"p"},
{"s":"Pinka WST","d":"1997-03-24","v":304.03,"g":"p"},
{"s":"Pinka WST","d":"1997-03-25","v":304.03,"g":"p"},
{"s":"Pinka WST","d":"1997-03-26","v":304.04,"g":"p"},
{"s":"Pinka WST","d":"1997-03-27","v":304.06,"g":"p"},
{"s":"Pinka WST","d":"1997-03-28","v":304.03,"g":"p"},
{"s":"Pinka WST","d":"1997-03-29","v":304.02,"g":"p"},
{"s":"Pinka WST","d":"1997-03-30","v":304.02,"g":"p"},
{"s":"Pinka WST","d":"1997-03-31","v":304.03,"g":"p"},
{"s":"Pinka WST","d":"1997-04-01","v":304.04,"g":"p"},
{"s":"Pinka WST","d":"1997-04-02","v":304.04,"g":"p"},
{"s":"Pinka WST","d":"1997-04-03","v":304.04,"g":"p"},
{"s":"Pinka WST","d":"1997-04-04","v":304.05,"g":"p"},
{"s":"Pinka WST","d":"1997-04-05","v":304.07,"g":"p"},
{"s":"Pinka WST","d":"1997-04-06","v":304.05,"g":"p"},
{"s":"Pinka WST","d":"1997-04-07","v":304.04,"g":"p"},
{"s":"Pinka WST","d":"1997-04-08","v":304.04,"g":"p"},
{"s":"Pinka WST","d":"1997-04-09","v":304.04,"g":"p"},
{"s":"Pinka WST","d":"1997-04-10","v":304.03,"g":"p"},
{"s":"Pinka WST","d":"1997-04-11","v":304.03,"g":"p"},
{"s":"Pinka WST","d":"1997-04-12","v":304.04,"g":"p"},
{"s":"Pinka WST","d":"1997-04-13","v":304.04,"g":"p"},
{"s":"Pinka WST","d":"1997-04-14","v":304.04,"g":"p"},
{"s":"Pinka WST","d":"1997-04-15","v":304.04,"g":"p"},
{"s":"Pinka WST","d":"1997-04-16","v":304.05,"g":"p"},
{"s":"Pinka WST","d":"1997-04-17","v":304.06,"g":"p"},
{"s":"Pinka WST","d":"1997-04-18","v":304.06,"g":"p"},
{"s":"Pinka WST","d":"1997-04-19","v":304.05,"g":"p"},
{"s":"Pinka WST","d":"1997-04-20","v":304.05,"g":"p"},
{"s":"Pinka WST","d":"1997-04-21","v":304.04,"g":"p"},
{"s":"Pinka WST","d":"1997-04-22","v":304.03,"g":"p"},
{"s":"Pinka WST","d":"1997-04-23","v":304.02,"g":"p"},
{"s":"Pinka WST","d":"1997-04-24","v":304.02,"g":"p"},
{"s":"Pinka WST","d":"1997-04-25","v":304.01,"g":"p"},
{"s":"Pinka WST","d":"1997-04-26","v":304.01,"g":"p"},
{"s":"Pinka WST","d":"1997-04-27","v":304.01,"g":"p"},
{"s":"Pinka WST","d":"1997-04-28","v":304.02,"g":"p"},
{"s":"Pinka WST","d":"1997-04-29","v":304.01,"g":"p"},
{"s":"Pinka WST","d":"1997-04-30","v":304.01,"g":"p"},
{"s":"Pinka WST","d":"1997-05-01","v":304.00,"g":"p"},
{"s":"Pinka WST","d":"1997-05-02","v":304.00,"g":"p"},
{"s":"Pinka WST","d":"1997-05-03","v":304.00,"g":"p"},
{"s":"Pinka WST","d":"1997-05-04","v":304.00,"g":"p"},
{"s":"Pinka WST","d":"1997-05-05","v":304.00,"g":"p"},
{"s":"Pinka WST","d":"1997-05-06","v":303.99,"g":"p"},
{"s":"Pinka WST","d":"1997-05-07","v":303.99,"g":"p"}
]},
"encoding":{
"x":{"field":"d","type":"temporal","title":"Tag",
 "scale":{"type":"utc","domain":[{"year":1996,"month":9,"date":8,"hours":12,"utc":true},{"year":1997,"month":5,"date":7,"hours":12,"utc":true}]},
 "axis":{"values":[
 {"year":1996,"month":9,"date":10,"utc":true},{"year":1996,"month":9,"date":17,"utc":true},{"year":1996,"month":9,"date":24,"utc":true},
 {"year":1996,"month":10,"date":1,"utc":true},{"year":1996,"month":10,"date":8,"utc":true},{"year":1996,"month":10,"date":15,"utc":true},{"year":1996,"month":10,"date":22,"utc":true},{"year":1996,"month":10,"date":29,"utc":true},
 {"year":1996,"month":11,"date":5,"utc":true},{"year":1996,"month":11,"date":12,"utc":true},{"year":1996,"month":11,"date":19,"utc":true},{"year":1996,"month":11,"date":26,"utc":true},
 {"year":1996,"month":12,"date":3,"utc":true},{"year":1996,"month":12,"date":10,"utc":true},{"year":1996,"month":12,"date":17,"utc":true},{"year":1996,"month":12,"date":24,"utc":true},{"year":1996,"month":12,"date":31,"utc":true},
 {"year":1997,"month":1,"date":7,"utc":true},{"year":1997,"month":1,"date":14,"utc":true},{"year":1997,"month":1,"date":21,"utc":true},{"year":1997,"month":1,"date":28,"utc":true},
 {"year":1997,"month":2,"date":4,"utc":true},{"year":1997,"month":2,"date":11,"utc":true},{"year":1997,"month":2,"date":18,"utc":true},{"year":1997,"month":2,"date":25,"utc":true},
 {"year":1997,"month":3,"date":4,"utc":true},{"year":1997,"month":3,"date":11,"utc":true},{"year":1997,"month":3,"date":18,"utc":true},{"year":1997,"month":3,"date":25,"utc":true},
 {"year":1997,"month":4,"date":1,"utc":true},{"year":1997,"month":4,"date":8,"utc":true},{"year":1997,"month":4,"date":15,"utc":true},{"year":1997,"month":4,"date":22,"utc":true},{"year":1997,"month":4,"date":29,"utc":true},
 {"year":1997,"month":5,"date":6,"utc":true}],
 "format":"%d.%m.%Y","labelAngle":270,"labelFontSize":23,"labelColor":"#000","labelPadding":14,"labelOverlap":false,"labelBound":false,"labelFlush":false,
 "tickSize":5,"tickColor":"#888","domainColor":"#444","domainWidth":1.5,"grid":false,
 "titleFontSize":24,"titleFontWeight":"bold","titleColor":"#000","titlePadding":24}},
"y":{"field":"v","type":"quantitative","title":"WSP [m ü.A.]",
 "scale":{"domain":[300,306],"nice":false,"zero":false},
 "axis":{"values":[300,301,302,303,304,305,306],"labelFontSize":25,"labelColor":"#000","labelPadding":8,"tickSize":7,"tickColor":"#555",
 "domainColor":"#999","domainDash":[3,3],"grid":false,"titleFontSize":21,"titleFontWeight":"bold","titleColor":"#000","titlePadding":24}},
"color":{"field":"s","type":"nominal",
 "scale":{"domain":["Brunnen \"B7\"","Brunnen1","Brunnen2","Brunnen3","Brunnen 4","Brunnen5","Sonde6","Pinka WST"],
 "range":["#000000","#000000","#000000","#000000","#000000","#000000","#000000","#000000"]},
 "legend":{"orient":"none","legendX":-74,"legendY":-116,"direction":"horizontal","columns":8,"title":null,
 "symbolSize":1600,"symbolStrokeWidth":0,"labelFontSize":26,"labelFont":"Liberation Sans","labelColor":"#000","labelOffset":7,"columnPadding":28,"padding":3,"strokeColor":"#000",
 "encode":{
 "legend":{"update":{"strokeWidth":{"value":1.5}}},
 "symbols":{"update":{
 "strokeWidth":{"value":0},"opacity":{"value":1},
 "shape":{"signal":"datum.value==='Brunnen1'?'M-1.15,-0.065H-0.32V-0.32H0.32V-0.065H1.15V0.065H0.32V0.32H-0.32V0.065H-1.15Z':datum.value==='Brunnen2'?'M-1.15,-0.065H-0.32V-0.32H0.32V-0.065H1.15V0.065H0.32V0.32H-0.32V0.065H-1.15ZM-0.2,-0.2V0.2H0.2V-0.2ZM-0.09,-0.09H0.09V0.09H-0.09Z':datum.value==='Brunnen3'?'M-1.15,-0.065H1.15V0.065H-1.15ZM0.33,0L0.286,0.165L0.165,0.286L0,0.33L-0.165,0.286L-0.286,0.165L-0.33,0L-0.286,-0.165L-0.165,-0.286L0,-0.33L0.165,-0.286L0.286,-0.165Z':datum.value==='Brunnen 4'||datum.value==='Sonde6'?'M-1.15,-0.065H1.15V0.065H-1.15ZM0,-0.38L0.38,0.27H-0.38Z':datum.value==='Brunnen5'?'M-1.15,-0.065H-0.32V-0.32H0.32V-0.065H1.15V0.065H0.32V0.32H-0.32V0.065H-1.15ZM-0.14,-0.14V0.14H0.14V-0.14ZM-0.06,-0.06H0.06V0.06H-0.06Z':datum.value==='Pinka WST'?'M-1.15,-0.065H-0.32V-0.32H0.32V-0.065H1.15V0.065H0.32V0.32H-0.32V0.065H-1.15ZM-0.2,-0.2V0.2H0.2V-0.2Z':'M-1.15,-0.065H1.15V0.065H-1.15Z'"}
 }}}}}
},
"layer":[
{"transform":[{"filter":{"field":"g","equal":"b7"}}],"mark":{"type":"line","strokeWidth":10,"strokeJoin":"round","strokeCap":"round"},"encoding":{"stroke":{"value":"#b2b2b2"}}},
{"transform":[{"filter":{"field":"g","equal":"b7d"}}],"mark":{"type":"line","strokeWidth":2},"encoding":{"stroke":{"value":"#555555"}}},
{"transform":[{"filter":{"field":"s","equal":"Brunnen1"}},{"filter":"isValid(datum.g)"}],"mark":{"type":"line","strokeWidth":2.5},"encoding":{"detail":{"field":"g"}}},
{"transform":[{"filter":{"field":"s","equal":"Brunnen1"}}],"mark":{"type":"point","shape":"square","filled":true,"size":169,"opacity":1}},
{"transform":[{"filter":{"field":"s","equal":"Brunnen2"}},{"filter":"isValid(datum.g)"}],"mark":{"type":"line","strokeWidth":2.5},"encoding":{"detail":{"field":"g"}}},
{"transform":[{"filter":{"field":"s","equal":"Brunnen2"}}],"mark":{"type":"point","shape":"square","filled":true,"size":110,"opacity":1,"stroke":"#000","strokeWidth":3},"encoding":{"fill":{"value":"#8c8c8c"}}},
{"transform":[{"filter":{"field":"s","equal":"Brunnen3"}}],"mark":{"type":"point","shape":"circle","filled":true,"size":196,"opacity":1}},
{"transform":[{"filter":{"field":"s","equal":"Brunnen 4"}},{"filter":"isValid(datum.g)"}],"mark":{"type":"line","strokeWidth":3},"encoding":{"detail":{"field":"g"}}},
{"transform":[{"filter":{"field":"s","equal":"Brunnen 4"}}],"mark":{"type":"point","shape":"triangle-up","filled":true,"size":225,"opacity":1},"encoding":{"fill":{"value":"#0a0a0a"}}},
{"transform":[{"filter":{"field":"s","equal":"Brunnen5"}},{"filter":"isValid(datum.g)"}],"mark":{"type":"line","strokeWidth":2.5},"encoding":{"detail":{"field":"g"}}},
{"transform":[{"filter":{"field":"s","equal":"Brunnen5"}}],"mark":{"type":"point","shape":"square","filled":true,"size":121,"opacity":1,"stroke":"#000","strokeWidth":2.5},"encoding":{"fill":{"value":"#404040"}}},
{"transform":[{"filter":{"field":"s","equal":"Sonde6"}},{"filter":"isValid(datum.g)"}],"mark":{"type":"line","strokeWidth":2.5},"encoding":{"detail":{"field":"g"},"stroke":{"value":"#6b6b6b"}}},
{"transform":[{"filter":{"field":"s","equal":"Sonde6"}}],"mark":{"type":"point","shape":"triangle-up","filled":true,"size":225,"opacity":1},"encoding":{"fill":{"value":"#6b6b6b"}}},
{"transform":[{"filter":{"field":"s","equal":"Pinka WST"}}],"mark":{"type":"line","strokeWidth":1.5},"encoding":{"stroke":{"value":"#444444"}}},
{"transform":[{"filter":{"field":"s","equal":"Pinka WST"}}],"mark":{"type":"point","shape":"square","filled":false,"fill":"#ffffff","size":100,"opacity":1,"strokeWidth":2},"encoding":{"stroke":{"value":"#555555"}}}
]
}
